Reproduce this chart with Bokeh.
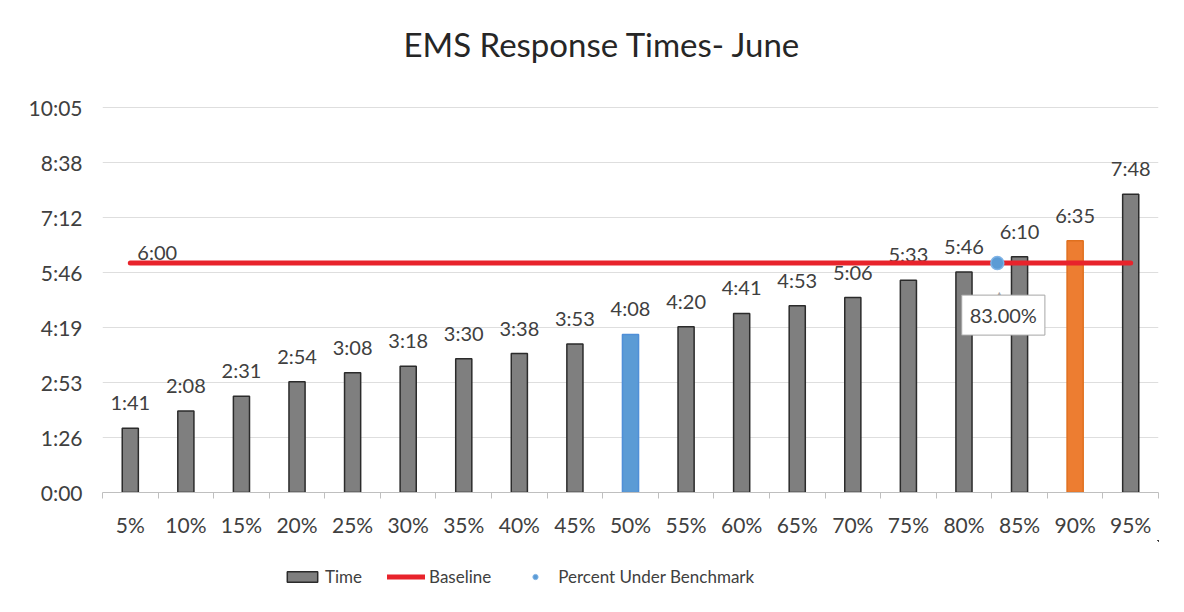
from bokeh.plotting import figure
from bokeh.layouts import column
from bokeh.models import (ColumnDataSource, Range1d, FixedTicker, Legend, LegendItem,
                          Label, Title)
from bokeh.core.properties import value
from bokeh.embed import file_html
from bokeh.resources import INLINE

# ---- data ----
categories = ["5%", "10%", "15%", "20%", "25%", "30%", "35%", "40%", "45%", "50%",
              "55%", "60%", "65%", "70%", "75%", "80%", "85%", "90%", "95%"]
pct = [5, 10, 15, 20, 25, 30, 35, 40, 45, 50, 55, 60, 65, 70, 75, 80, 85, 90, 95]
time_labels = ["1:41", "2:08", "2:31", "2:54", "3:08", "3:18", "3:30", "3:38", "3:53", "4:08",
               "4:20", "4:41", "4:53", "5:06", "5:33", "5:46", "6:10", "6:35", "7:48"]
highlight = ["gray"] * 9 + ["blue"] + ["gray"] * 7 + ["orange"] + ["gray"]
baseline_label = "6:00"
benchmark_pct = 83
benchmark_label = "83.00%"
y_tick_labels = ["0:00", "1:26", "2:53", "4:19", "5:46", "7:12", "8:38", "10:05"]
y_tick_days = [0.000, 0.001, 0.002, 0.003, 0.004, 0.005, 0.006, 0.007]  # Excel day fractions
legend_labels = ["Time", "Baseline", "Percent Under Benchmark"]
chart_title = "EMS Response Times- June"


def to_sec(s):
    m, ss = s.split(":")
    return int(m) * 60 + int(ss)


seconds = [to_sec(t) for t in time_labels]
baseline_sec = to_sec(baseline_label)
y_ticks = [d * 86400 for d in y_tick_days]

FONT = "Lato"
TXT = "#404040"
GRAY_FILL, GRAY_LINE = "#7f7f7f", "#2b2b2b"
RED = "#e8232b"
BLUE, BLUE_LINE = "#5b9bd5", "#7fb3e6"
fill_map = {"gray": GRAY_FILL, "blue": "#5b9bd5", "orange": "#ed7d31"}
line_map = {"gray": GRAY_LINE, "blue": "#4f8fd8", "orange": "#e0701f"}

src = ColumnDataSource(dict(
    x=pct, top=seconds, lab=time_labels,
    fill=[fill_map[h] for h in highlight],
    line=[line_map[h] for h in highlight],
))
base_src = ColumnDataSource(dict(x=[pct[0], pct[-1]], y=[baseline_sec, baseline_sec]))
pt_src = ColumnDataSource(dict(x=[benchmark_pct], y=[baseline_sec]))

W = 1176


def blank(height):
    f = figure(width=W, height=height, output_backend="svg", toolbar_location=None,
               x_axis_type=None, y_axis_type=None, min_border=0,
               min_border_left=102, min_border_right=18,
               x_range=Range1d(-2, -1), y_range=Range1d(-2, -1))
    f.outline_line_color = None
    f.xgrid.grid_line_color = None
    f.ygrid.grid_line_color = None
    return f


# ---- title strip ----
tf = blank(90)
tf.title = Title(text=chart_title, align="left", offset=301,
                 text_font=FONT, text_font_size="33px", text_font_style="normal",
                 text_color="#262626", standoff=54)

# ---- main chart ----
p = figure(width=W, height=450, output_backend="svg", toolbar_location=None,
           x_range=Range1d(pct[0] - 2.5, pct[-1] + 2.5),
           y_range=Range1d(y_ticks[0], y_ticks[-1] + 1),
           min_border_left=102, min_border_right=18, min_border_top=16, min_border_bottom=48)
p.outline_line_color = None

# gridlines
p.xgrid.grid_line_color = None
p.ygrid.grid_line_color = "#dedede"
p.ygrid.grid_line_width = 1

# y axis
p.yaxis.ticker = FixedTicker(ticks=y_ticks)
p.yaxis.major_label_overrides = {t: l for t, l in zip(y_ticks, y_tick_labels)}
p.yaxis.axis_line_color = None
p.yaxis.major_tick_line_color = None
p.yaxis.major_tick_out = 0
p.yaxis.minor_tick_line_color = None
p.yaxis.minor_tick_out = 0
p.yaxis.major_label_standoff = 20
p.yaxis.major_label_text_font = FONT
p.yaxis.major_label_text_font_size = "21px"
p.yaxis.major_label_text_color = TXT

# x axis
bounds = [c - 2.5 for c in pct] + [pct[-1] + 2.5]
p.xaxis.ticker = FixedTicker(ticks=pct, minor_ticks=bounds)
p.xaxis.major_label_overrides = {x: c for x, c in zip(pct, categories)}
p.xaxis.axis_line_color = "#bfbfbf"
p.xaxis.major_tick_line_color = None
p.xaxis.major_tick_out = 0
p.xaxis.minor_tick_line_color = "#bfbfbf"
p.xaxis.minor_tick_out = 6
p.xaxis.minor_tick_in = 0
p.xaxis.major_label_standoff = 13
p.xaxis.major_label_text_font = FONT
p.xaxis.major_label_text_font_size = "21px"
p.xaxis.major_label_text_color = TXT

# bars
p.vbar(x="x", top="top", width=1.45, bottom=0, source=src,
       fill_color="fill", line_color="line", line_width=1.5)
p.text(x="x", y="top", text="lab", source=src, text_align="center",
       text_baseline="alphabetic", y_offset=-26, text_font=value(FONT),
       text_font_size="20px", text_color=TXT)

# baseline
p.line(x="x", y="y", source=base_src, line_color=RED, line_width=5, line_cap="round")
p.add_layout(Label(x=pct[0], y=baseline_sec, text=baseline_label, x_offset=7, y_offset=11,
                   text_align="left", text_baseline="alphabetic", text_font=FONT,
                   text_font_size="20px", text_color=TXT))

# benchmark point + callout (with pointer notch)
p.scatter(x="x", y="y", source=pt_src, size=13, fill_color=BLUE,
          line_color=BLUE_LINE, line_width=1.5)
p.add_layout(Label(x=benchmark_pct, y=baseline_sec, text="\u25b3", x_offset=2,
                   y_offset=-37, text_align="center", text_baseline="alphabetic",
                   text_font="DejaVu Sans", text_font_size="30px", text_color="#a6a6a6"))
p.add_layout(Label(x=benchmark_pct, y=baseline_sec, text=benchmark_label, x_offset=6,
                   y_offset=-52, text_align="center", text_baseline="middle", text_font=FONT,
                   text_font_size="20px", text_color=TXT,
                   background_fill_color="white", border_line_color="#a6a6a6",
                   border_line_width=1, padding=8))

# ---- legend strip (its ranges keep the series out of view) ----
lg = blank(64)
r_bar = lg.vbar(x="x", top="top", width=1.45, source=src, fill_color=GRAY_FILL,
                line_color=GRAY_LINE, line_width=1.5)
r_line = lg.line(x="x", y="y", source=base_src, line_color=RED, line_width=5, line_cap="round")
r_pt = lg.scatter(x="x", y="y", source=pt_src, size=12, fill_color=BLUE,
                  line_color=BLUE_LINE, line_width=1)
legend = Legend(items=[
    LegendItem(label=legend_labels[0], renderers=[r_bar], index=0),
    LegendItem(label=legend_labels[1], renderers=[r_line]),
    LegendItem(label=legend_labels[2], renderers=[r_pt], index=0),
], orientation="horizontal", location=(181, 17), padding=0, margin=0, spacing=25,
   label_standoff=4, glyph_width=38, glyph_height=13,
   label_text_font=FONT, label_text_font_size="17px", label_text_color=TXT,
   border_line_color=None, background_fill_alpha=0)
lg.add_layout(legend)

open("out.html", "w").write(file_html(column(tf, p, lg), INLINE))
